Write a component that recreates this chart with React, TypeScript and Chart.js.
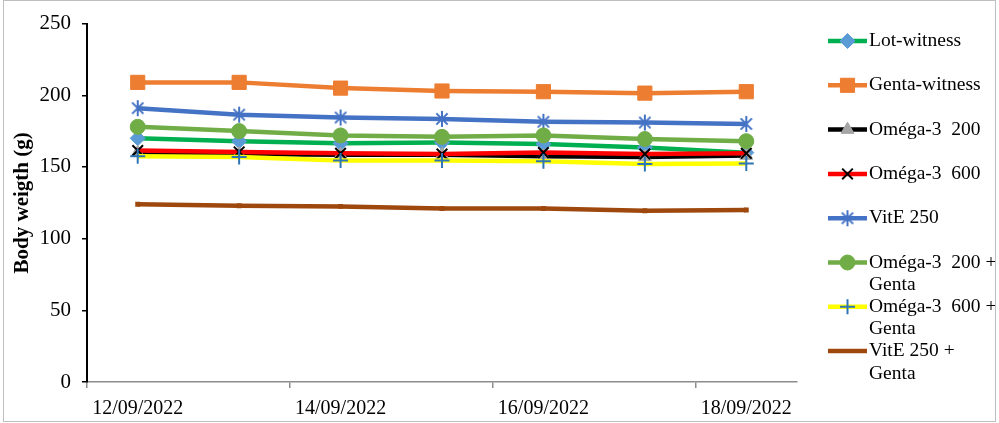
import React, { useEffect, useRef } from 'react';
import { Chart, registerables } from 'chart.js';
import { drawPoint } from 'chart.js/helpers';

Chart.register(...registerables);

// Measurement days
const dates = [
  '12/09/2022',
  '13/09/2022',
  '14/09/2022',
  '15/09/2022',
  '16/09/2022',
  '17/09/2022',
  '18/09/2022',
];

// Mean body weight per group (g)
const lotWitness = [170, 168, 166.5, 167, 166, 163.5, 160];
const gentaWitness = [209, 209, 205, 203, 202.5, 201.5, 202.5];
const omega200 = [160, 159, 158.5, 158.5, 157.5, 157, 158];
const omega600 = [161.5, 160.5, 159.5, 159, 160, 159, 159.5];
const vitE250 = [191, 186.5, 184.5, 183.5, 181.5, 181, 180];
const omega200Genta = [178, 175, 172, 171, 172, 169.5, 168];
const omega600Genta = [157.5, 157, 154.5, 154.5, 154, 152, 152.5];
const vitE250Genta = [124, 123, 122.5, 121, 121, 119.5, 120];

const groupNames = [
  'Lot-witness',
  'Genta-witness',
  'Oméga-3  200',
  'Oméga-3  600',
  'VitE 250',
  'Oméga-3  200 + Genta',
  'Oméga-3  600 + Genta',
  'VitE 250 + Genta',
];

const yTicks = [0, 50, 100, 150, 200, 250];

const SERIF = "'Liberation Serif', 'Times New Roman', serif";

// Excel-style asterisk marker: a vertical stroke crossed by an X
function makeAsterisk(color: string, r: number, lw: number): HTMLCanvasElement {
  const c = document.createElement('canvas');
  const s = Math.ceil(2 * r + lw + 2);
  c.width = s;
  c.height = s;
  const g = c.getContext('2d')!;
  g.strokeStyle = color;
  g.lineWidth = lw;
  const m = s / 2;
  const d = r * Math.SQRT1_2;
  g.beginPath();
  g.moveTo(m, m - r);
  g.lineTo(m, m + r);
  g.moveTo(m - d, m - d);
  g.lineTo(m + d, m + d);
  g.moveTo(m + d, m - d);
  g.lineTo(m - d, m + d);
  g.stroke();
  return c;
}

function wrapText(ctx: CanvasRenderingContext2D, text: string, maxWidth: number): string[] {
  const words = text.split(' ');
  const lines: string[] = [];
  let line = '';
  words.forEach((w, i) => {
    const candidate = i === 0 ? w : line + ' ' + w;
    if (line.trim() !== '' && w !== '' && ctx.measureText(candidate).width > maxWidth) {
      lines.push(line.trimEnd());
      line = w;
    } else {
      line = candidate;
    }
  });
  if (line) lines.push(line);
  return lines;
}

// Legend drawn down the right-hand side, wrapping long names onto two lines
const sideLegend = {
  id: 'sideLegend',
  afterDraw(chart: any, _args: any, opts: any) {
    const ctx: CanvasRenderingContext2D = chart.ctx;
    ctx.save();
    ctx.font = `${opts.fontSize}px ${SERIF}`;
    ctx.textBaseline = 'middle';
    ctx.textAlign = 'left';
    chart.data.datasets.forEach((ds: any, i: number) => {
      const y = opts.top + i * opts.step;
      ctx.strokeStyle = ds.borderColor;
      ctx.lineWidth = ds.borderWidth;
      ctx.lineCap = 'butt';
      ctx.beginPath();
      ctx.moveTo(opts.x0, y);
      ctx.lineTo(opts.x1, y);
      ctx.stroke();
      if (ds.legendMarker !== false && ds.pointRadius > 0) {
        ctx.fillStyle = ds.pointBackgroundColor;
        ctx.strokeStyle = ds.pointBorderColor;
        ctx.lineWidth = ds.pointBorderWidth;
        drawPoint(
          ctx,
          {
            pointStyle: ds.pointStyle,
            radius: ds.pointRadius,
            rotation: 0,
            borderWidth: ds.pointBorderWidth,
          } as any,
          (opts.x0 + opts.x1) / 2,
          y
        );
      }
      ctx.fillStyle = '#000';
      const lines = wrapText(ctx, ds.label, opts.maxWidth);
      lines.forEach((ln, k) => {
        ctx.fillText(ln, opts.textX, y + k * opts.lineGap);
      });
    });
    ctx.restore();
  },
};

// Thin frame around the figure
const figureFrame = {
  id: 'figureFrame',
  afterDraw(chart: any) {
    const ctx: CanvasRenderingContext2D = chart.ctx;
    ctx.save();
    ctx.strokeStyle = '#bfbfbf';
    ctx.lineWidth = 1;
    ctx.strokeRect(3.5, 0.5, chart.width - 7, chart.height - 2);
    ctx.restore();
  },
};

export default function App() {
  const canvasRef = useRef<HTMLCanvasElement | null>(null);

  useEffect(() => {
    document.body.style.margin = '0';
    const canvas = canvasRef.current;
    if (!canvas) return;

    const asterisk = makeAsterisk('#4472C4', 8, 2);

    const series = [
      { data: lotWitness, line: '#00B050', fill: '#5B9BD5', stroke: '#5B9BD5', style: 'rectRot', r: 7.5, bw: 1 },
      { data: gentaWitness, line: '#ED7D31', fill: '#ED7D31', stroke: '#ED7D31', style: 'rect', r: 10, bw: 1 },
      { data: omega200, line: '#000000', fill: '#A5A5A5', stroke: '#A5A5A5', style: 'triangle', r: 7.5, bw: 1 },
      { data: omega600, line: '#FF0000', fill: '#000000', stroke: '#000000', style: 'crossRot', r: 7.5, bw: 2 },
      { data: vitE250, line: '#4472C4', fill: '#4472C4', stroke: '#4472C4', style: asterisk, r: 8, bw: 0 },
      { data: omega200Genta, line: '#70AD47', fill: '#70AD47', stroke: '#70AD47', style: 'circle', r: 7.5, bw: 1 },
      { data: omega600Genta, line: '#FFFF00', fill: '#2E75B6', stroke: '#2E75B6', style: 'cross', r: 7.5, bw: 2 },
      { data: vitE250Genta, line: '#9E480E', fill: '#9E480E', stroke: '#9E480E', style: 'rect', r: 3.5, bw: 0, noLegendMarker: true },
    ];

    const n = series.length;
    const datasets = series.map((s, i) => ({
      label: groupNames[i],
      data: s.data,
      borderColor: s.line,
      borderWidth: 4.5,
      borderJoinStyle: 'round' as const,
      tension: 0,
      fill: false,
      pointStyle: s.style as any,
      pointRadius: s.r,
      pointBackgroundColor: s.fill,
      pointBorderColor: s.stroke,
      pointBorderWidth: s.bw,
      order: n - i,
      legendMarker: !s.noLegendMarker,
    }));

    const chart = new Chart(canvas, {
      type: 'line',
      data: { labels: dates, datasets: datasets as any },
      options: {
        animation: false,
        responsive: true,
        maintainAspectRatio: false,
        layout: { padding: { top: 20, right: 202, bottom: 0, left: 0 } },
        plugins: {
          legend: { display: false },
          tooltip: { enabled: false },
          sideLegend: {
            x0: 828,
            x1: 867,
            textX: 869,
            top: 41,
            step: 44.3,
            lineGap: 22.5,
            fontSize: 19.5,
            maxWidth: 128,
          },
        } as any,
        scales: {
          x: {
            type: 'category',
            offset: true,
            grid: {
              offset: true,
              drawOnChartArea: false,
              drawTicks: true,
              tickLength: 6,
              lineWidth: 1.5,
              color: (c: any) => (c.index % 2 === 0 ? '#8c8c8c' : 'rgba(0,0,0,0)'),
            },
            border: { display: true, color: '#8c8c8c', width: 1.5 },
            ticks: {
              autoSkip: false,
              maxRotation: 0,
              padding: 9,
              color: '#000',
              font: { family: SERIF, size: 20 },
              callback: (_v: any, i: number) => (i % 2 === 0 ? dates[i] : ''),
            },
            afterFit: (scale: any) => {
              scale.height = 41;
            },
          },
          y: {
            min: 0,
            max: 250,
            afterBuildTicks: (scale: any) => {
              scale.ticks = yTicks.map((v) => ({ value: v }));
            },
            grid: {
              drawOnChartArea: false,
              drawTicks: true,
              tickLength: 5,
              lineWidth: 1.5,
              color: '#000',
            },
            border: { display: true, color: '#000', width: 2 },
            ticks: {
              padding: 11,
              color: '#000',
              font: { family: SERIF, size: 21 },
            },
            title: {
              display: true,
              text: 'Body weigth (g)',
              color: '#000',
              font: { family: SERIF, size: 21, weight: 'bold' },
              padding: { top: 10, bottom: 0 },
            },
            afterFit: (scale: any) => {
              scale.width = 87;
            },
          },
        },
      },
      plugins: [sideLegend, figureFrame],
    });

    return () => {
      chart.destroy();
    };
  }, []);

  return (
    <div style={{ position: 'relative', width: 999, height: 423 }}>
      <canvas ref={canvasRef} />
    </div>
  );
}
